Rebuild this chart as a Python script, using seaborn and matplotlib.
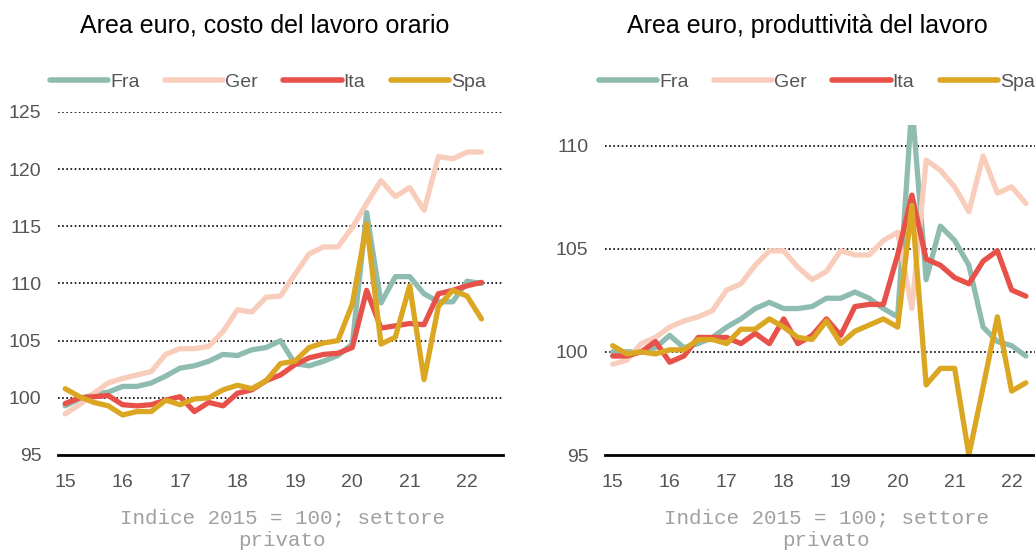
import numpy as np
import pandas as pd
import matplotlib
matplotlib.use("Agg")
import matplotlib.pyplot as plt
import seaborn as sns

# trimestri 2015Q1 - 2022Q2
quarters = [2015 + i / 4 for i in range(30)]
countries = ["Fra", "Ger", "Ita", "Spa"]
colors = {"Fra": "#8fbcb1", "Ger": "#f9cdbb", "Ita": "#e8504a", "Spa": "#dba723"}

# costo del lavoro orario
costo_fra = [99.3, 99.9, 100.3, 100.5, 101.0, 101.0, 101.3, 101.9, 102.6, 102.8,
             103.2, 103.8, 103.7, 104.2, 104.4, 105.0, 103.0, 102.8, 103.2, 103.7,
             104.7, 116.2, 108.3, 110.6, 110.6, 109.1, 108.4, 108.4, 110.2, 110.0]
costo_ger = [98.6, 99.4, 100.4, 101.3, 101.7, 102.0, 102.3, 103.8, 104.3, 104.3,
             104.5, 105.8, 107.7, 107.5, 108.8, 108.9, 110.8, 112.6, 113.2, 113.2,
             114.9, 117.0, 119.0, 117.6, 118.4, 116.4, 121.1, 120.9, 121.5, 121.5]
costo_ita = [99.5, 100.0, 100.1, 100.2, 99.4, 99.3, 99.4, 99.8, 100.1, 98.8,
             99.6, 99.3, 100.4, 100.7, 101.5, 102.0, 102.9, 103.5, 103.8, 103.9,
             104.4, 109.4, 106.1, 106.3, 106.5, 106.4, 109.1, 109.4, 109.8, 110.1]
costo_spa = [100.8, 100.1, 99.6, 99.3, 98.5, 98.8, 98.8, 99.8, 99.4, 99.9,
             100.0, 100.7, 101.1, 100.8, 101.5, 103.0, 103.2, 104.4, 104.8, 105.0,
             108.2, 115.2, 104.7, 105.3, 109.8, 101.6, 108.0, 109.4, 108.9, 106.9]

# produttivita del lavoro
prod_fra = [100.0, 100.0, 100.0, 100.2, 100.8, 100.2, 100.4, 100.7, 101.2, 101.6,
            102.1, 102.4, 102.1, 102.1, 102.2, 102.6, 102.6, 102.9, 102.6, 102.1,
            101.7, 112.0, 103.5, 106.1, 105.4, 104.2, 101.2, 100.5, 100.3, 99.8]
prod_ger = [99.4, 99.6, 100.4, 100.7, 101.2, 101.5, 101.7, 102.0, 103.0, 103.3,
            104.2, 104.9, 104.9, 104.1, 103.5, 103.9, 104.9, 104.7, 104.7, 105.4,
            105.8, 102.1, 109.3, 108.8, 108.0, 106.8, 109.5, 107.7, 108.0, 107.2]
prod_ita = [99.8, 99.8, 100.0, 100.5, 99.5, 99.8, 100.7, 100.7, 100.7, 100.4,
            100.9, 100.4, 101.6, 100.4, 100.8, 101.6, 100.8, 102.2, 102.3, 102.3,
            104.7, 107.6, 104.5, 104.2, 103.6, 103.3, 104.4, 104.9, 103.0, 102.7]
prod_spa = [100.3, 99.9, 100.0, 99.9, 100.1, 100.1, 100.6, 100.6, 100.4, 101.1,
            101.1, 101.6, 101.2, 100.7, 100.6, 101.5, 100.4, 101.0, 101.3, 101.6,
            101.2, 107.1, 98.4, 99.2, 99.2, 95.0, 98.3, 101.7, 98.1, 98.5]

year_ticks = list(range(2015, 2023))
year_labels = ["15", "16", "17", "18", "19", "20", "21", "22"]


def long_df(series):
    rows = []
    for c, vals in zip(countries, series):
        for q, v in zip(quarters, vals):
            rows.append({"data": q, "paese": c, "valore": v})
    return pd.DataFrame(rows)


df_costo = long_df([costo_fra, costo_ger, costo_ita, costo_spa])
df_prod = long_df([prod_fra, prod_ger, prod_ita, prod_spa])

sns.set_style("white")
plt.rcParams["font.family"] = ["Liberation Sans", "DejaVu Sans"]

fig = plt.figure(figsize=(10.35, 5.53), dpi=100)
ax1 = fig.add_axes([58 / 1035, 1 - 455 / 553, 445 / 1035, 343 / 553])
ax2 = fig.add_axes([605 / 1035, 1 - 455 / 553, 430 / 1035, 330 / 553])

# (asse, dati, titolo, ylim, yticks, xlim, centro legenda, centro titolo, centro nota)
panels = [
    (ax1, df_costo, "Area euro, costo del lavoro orario", (95, 125), [95, 100, 105, 110, 115, 120, 125],
     (2015 - 0.125, 2022.25 + 0.375), 268, 265, 282),
    (ax2, df_prod, "Area euro, produttività del lavoro", (95, 111), [95, 100, 105, 110],
     (2015 - 0.135, 2022.25 + 0.16), 817, 807, 826),
]

for ax, df, title, ylim, yticks, xlim, cx, tx, nx in panels:
    sns.lineplot(data=df, x="data", y="valore", hue="paese", palette=colors,
                 hue_order=countries, linewidth=3.8, ax=ax, legend=True)
    ax.set_ylim(*ylim)
    ax.set_xlim(*xlim)
    ax.set_yticks(yticks)
    ax.set_xticks(year_ticks)
    ax.set_xticklabels(year_labels)
    for y in yticks[1:]:
        ax.axhline(y, color="black", linestyle=(0, (1, 1.5)), linewidth=1.2, zorder=0)
    ax.set_xlabel("")
    ax.set_ylabel("")
    for s in ["top", "right", "left"]:
        ax.spines[s].set_visible(False)
    ax.spines["bottom"].set_color("black")
    ax.spines["bottom"].set_linewidth(2)
    ax.tick_params(axis="both", length=0, labelsize=14, colors="#555555")
    ax.tick_params(axis="y", pad=12)
    ax.tick_params(axis="x", pad=14)

    handles, labels = ax.get_legend_handles_labels()
    for h in handles:
        h.set_linewidth(4)
        h.set_solid_capstyle("round")
    ax.legend(handles, labels, loc="center", bbox_to_anchor=(cx / 1035, 1 - 82 / 553),
              bbox_transform=fig.transFigure, ncol=4, frameon=False, fontsize=14,
              handlelength=3.0, handletextpad=0.1, columnspacing=1.3,
              labelcolor="#555555")

    fig.text(tx / 1035, 1 - 26 / 553, title, ha="center", va="center",
             fontsize=18, color="black")
    fig.text(nx / 1035, 1 - 529 / 553, "Indice 2015 = 100; settore\nprivato",
             ha="center", va="center", fontsize=15, color="#a0a0a0",
             family="Liberation Mono", linespacing=1.2)

fig.savefig("out.png", dpi=100)
